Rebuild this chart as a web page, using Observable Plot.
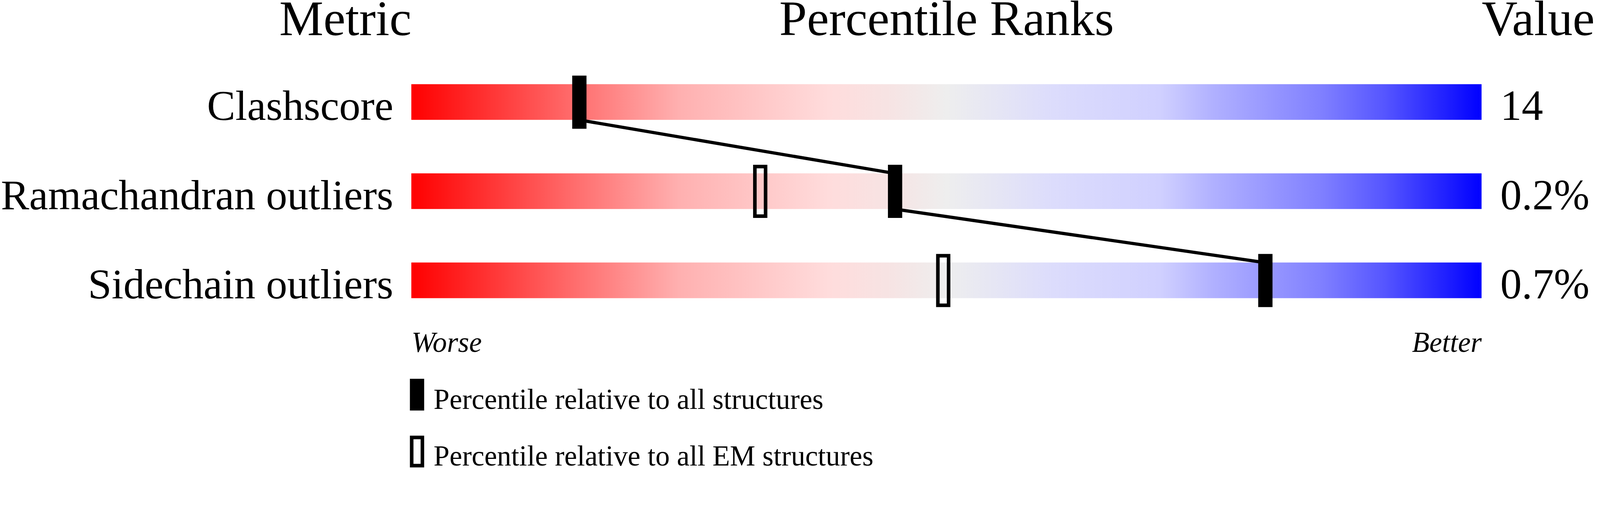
<!DOCTYPE html>
<html>
<head>
<meta charset="utf-8">
<script src="https://cdn.jsdelivr.net/npm/d3@7"></script>
<script src="https://cdn.jsdelivr.net/npm/@observablehq/plot@0.6"></script>
<style>
  html, body { margin: 0; padding: 0; background: #ffffff; }
  #chart svg { display: block; }
</style>
</head>
<body>
<div id="chart"></div>
<script>
// ---- data ----
const metrics = ["Clashscore", "Ramachandran outliers", "Sidechain outliers"];
const valueLabels = ["14", "0.2%", "0.7%"];
const pctAll = [15.7, 45.2, 79.8];        // percentile relative to all structures
const pctEM = [null, 32.6, 49.7];         // percentile relative to all EM structures
const headers = ["Metric", "Percentile Ranks", "Value"];
const endLabels = ["Worse", "Better"];
const legendLabels = [
  "Percentile relative to all structures",
  "Percentile relative to all EM structures"
];

// ---- derived tables ----
const rows = metrics.map((metric, i) => ({
  metric, row: i, value: valueLabels[i], all: pctAll[i], em: pctEM[i]
}));
const links = rows.slice(0, -1).map((d, i) => ({
  xa: d.all, ya: d.row, xb: rows[i + 1].all, yb: rows[i + 1].row
}));
const legendRows = legendLabels.map((label, i) => ({ label, i, filled: i === 0 }));

// styling constants
const BAR = 0.4;            // bar thickness in row units
const SERIF = "'Liberation Serif', 'Times New Roman', Times, serif";
const gradientStops = [
  [0, "#ff0000"], [0.15, "#ff6b6b"], [0.25, "#ffb0b0"], [0.39, "#ffdcdc"],
  [0.45, "#f6e4e4"], [0.5, "#eeeeee"], [0.6, "#dcdcfc"], [0.7, "#d0d0ff"],
  [0.75, "#b0b0ff"], [0.85, "#8080ff"], [0.91, "#5555ff"], [1, "#0000ff"]
];
const HEAD_Y = -0.552, ENDS_Y = 3.0;
const LEG_TOP = 3.304, LEG_BOT = 3.66, LEG_STEP = 0.638, LEG_TEXT = 3.64;

const chart = Plot.plot({
  width: 4485,
  height: 1311,
  marginTop: 0, marginRight: 0, marginBottom: 0, marginLeft: 0,
  style: { background: "#ffffff", fontFamily: SERIF, color: "#000000" },
  x: { type: "linear", domain: [0, 100], range: [1153, 4153], axis: null },
  y: { type: "linear", domain: [0, 1], range: [236, 486], axis: null },
  marks: [
    // gradient sliders
    Plot.rect(rows, { x1: 0, x2: 100, y1: "row", y2: d => d.row + BAR, fill: "url(#slider-grad)" }),
    // connecting line between "all structures" markers
    Plot.link(links, {
      x1: "xa", y1: d => d.ya + BAR, x2: "xb", y2: "yb",
      stroke: "#000000", strokeWidth: 9
    }),
    // EM markers (open)
    Plot.rect(rows.filter(d => d.em != null), {
      x1: "em", x2: "em", y1: "row", y2: d => d.row + BAR,
      insetLeft: -15, insetRight: -15, insetTop: -19, insetBottom: -20,
      fill: "none", stroke: "#000000", strokeWidth: 10
    }),
    // all-structure markers (filled)
    Plot.rect(rows, {
      x1: "all", x2: "all", y1: "row", y2: d => d.row + BAR,
      insetLeft: -20, insetRight: -20, insetTop: -24, insetBottom: -25,
      fill: "#000000"
    }),
    // metric labels
    Plot.text(rows, {
      x: 0, y: d => d.row + BAR, text: "metric", textAnchor: "end", lineAnchor: "bottom",
      dx: -51, fontSize: 119, fill: "#000000"
    }),
    // values
    Plot.text(rows, {
      x: 100, y: d => d.row + BAR, text: "value", textAnchor: "start", lineAnchor: "bottom",
      dx: 52, fontSize: 120, fill: "#000000"
    }),
    // headers
    Plot.text([headers[0]], {
      x: 0, y: HEAD_Y, text: d => d, textAnchor: "end", lineAnchor: "bottom",
      fontSize: 139, fill: "#000000"
    }),
    Plot.text([headers[1]], {
      x: 50, y: HEAD_Y, text: d => d, textAnchor: "middle", lineAnchor: "bottom",
      fontSize: 139, fill: "#000000"
    }),
    Plot.text([headers[2]], {
      x: 100, y: HEAD_Y, text: d => d, textAnchor: "start", lineAnchor: "bottom",
      fontSize: 139, fill: "#000000"
    }),
    // Worse / Better
    Plot.text([endLabels[0]], {
      x: 0, y: ENDS_Y, text: d => d, textAnchor: "start", lineAnchor: "bottom",
      fontSize: 80, fontStyle: "italic", fill: "#000000"
    }),
    Plot.text([endLabels[1]], {
      x: 100, y: ENDS_Y, text: d => d, textAnchor: "end", lineAnchor: "bottom",
      fontSize: 80, fontStyle: "italic", fill: "#000000"
    }),
    // legend markers
    Plot.rect(legendRows.filter(d => d.filled), {
      x1: 0, x2: 0, y1: d => LEG_TOP + d.i * LEG_STEP, y2: d => LEG_BOT + d.i * LEG_STEP,
      insetLeft: -4, insetRight: -36, fill: "#000000"
    }),
    Plot.rect(legendRows.filter(d => !d.filled), {
      x1: 0, x2: 0, y1: d => LEG_TOP + d.i * LEG_STEP, y2: d => LEG_BOT + d.i * LEG_STEP,
      insetLeft: 1, insetRight: -31, insetTop: 5, insetBottom: 5,
      fill: "none", stroke: "#000000", strokeWidth: 10
    }),
    // legend labels
    Plot.text(legendRows, {
      x: 0, y: d => LEG_TEXT + d.i * 0.636, text: "label", textAnchor: "start", lineAnchor: "bottom",
      dx: 62, fontSize: 80, fill: "#000000"
    })
  ]
});

// gradient definition for the sliders
const svg = d3.select(chart);
const defs = svg.insert("defs", ":first-child");
const grad = defs.append("linearGradient")
  .attr("id", "slider-grad")
  .attr("x1", "0%").attr("x2", "100%").attr("y1", "0%").attr("y2", "0%");
gradientStops.forEach(([o, c]) => grad.append("stop").attr("offset", o).attr("stop-color", c));

document.getElementById("chart").appendChild(chart);
</script>
</body>
</html>
